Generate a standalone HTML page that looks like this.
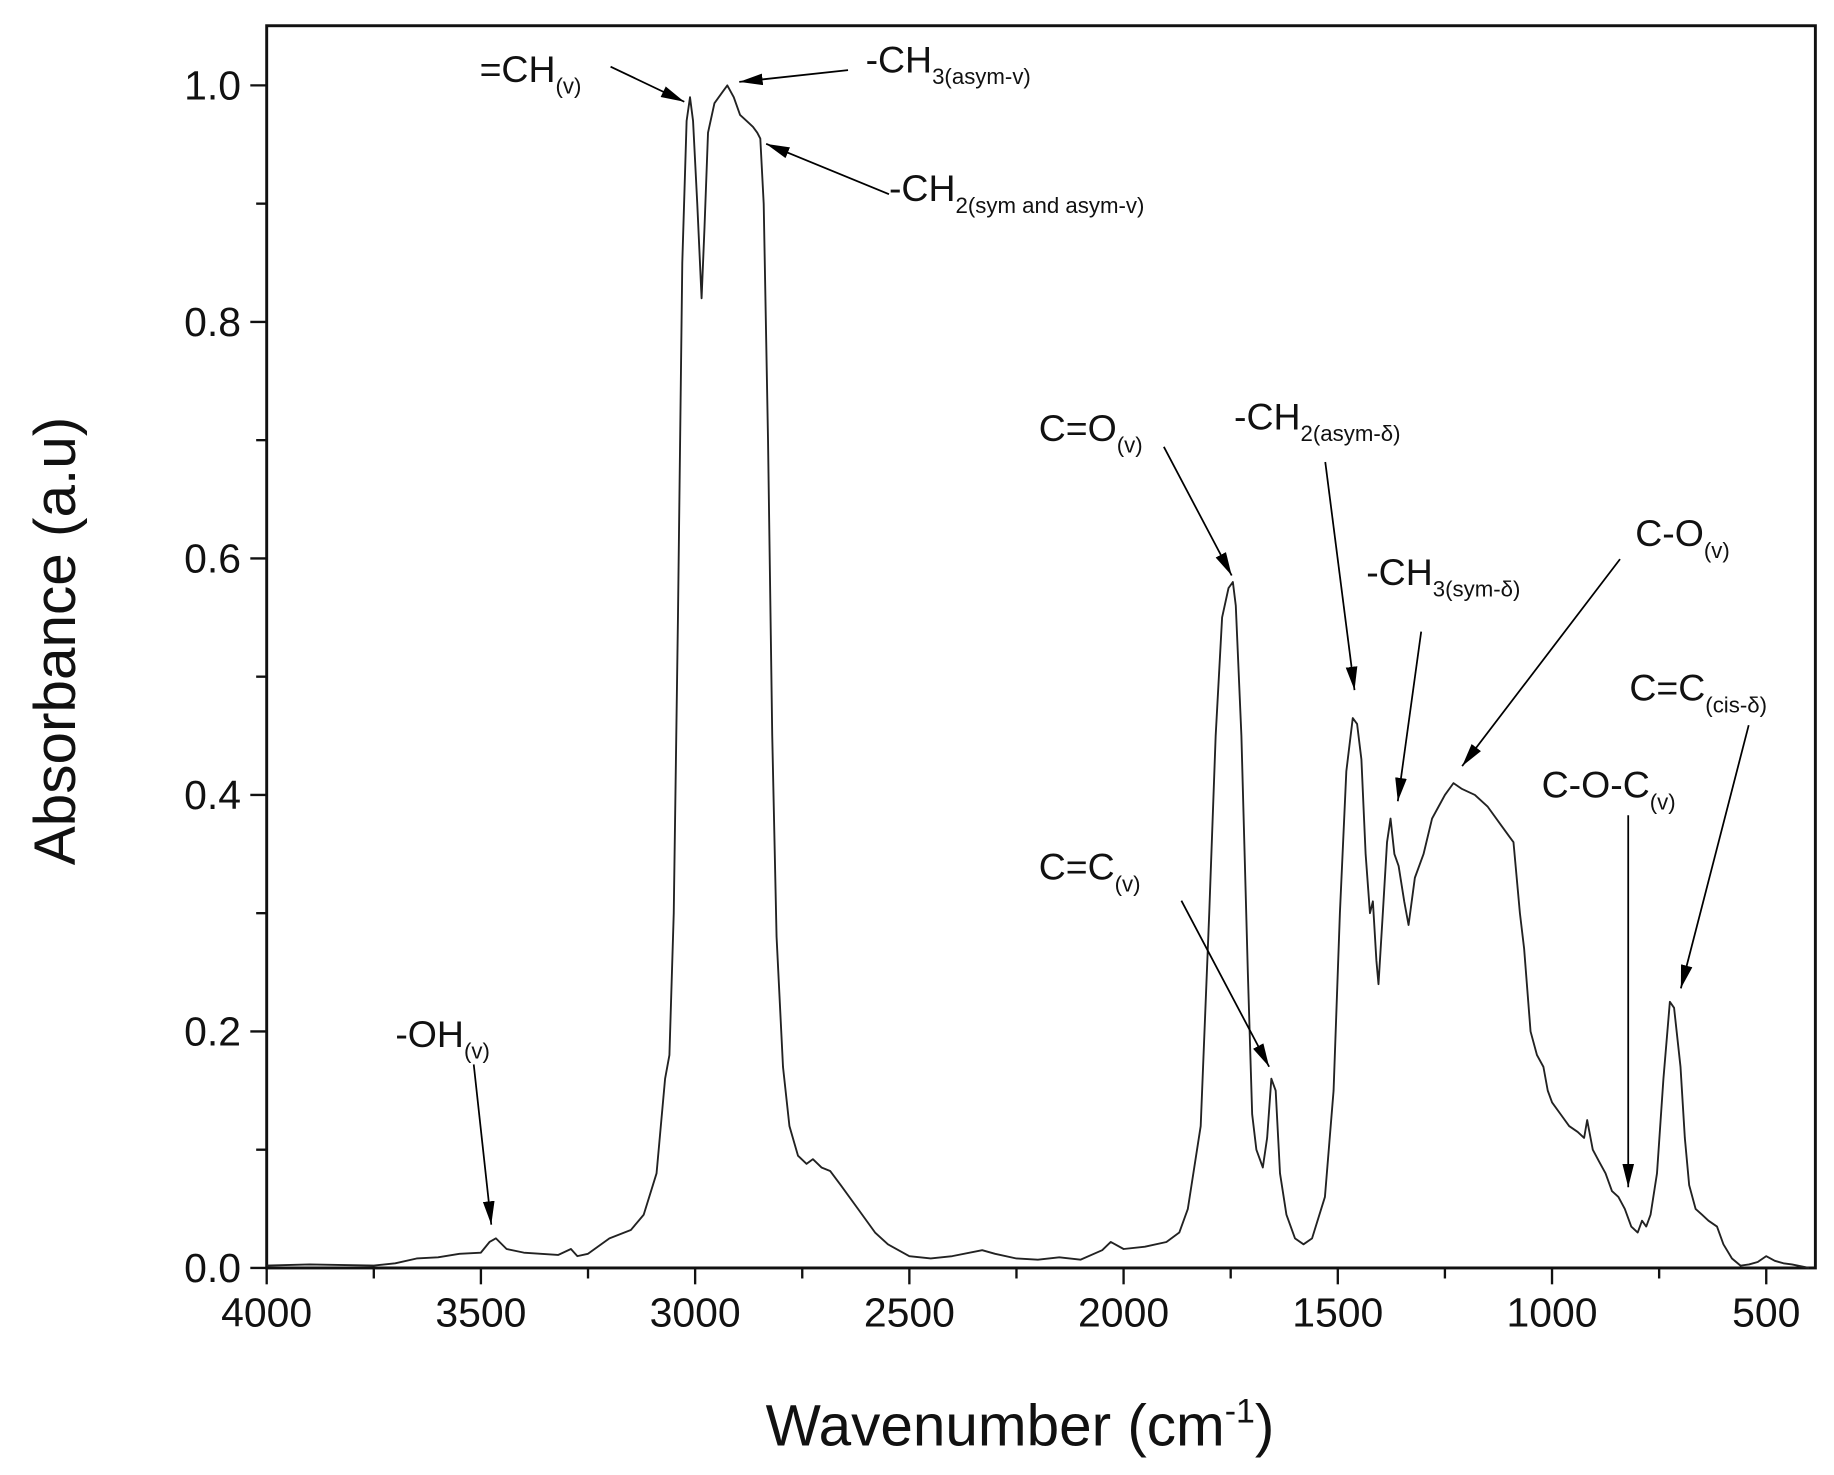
<!DOCTYPE html>
<html><head><meta charset="utf-8"><style>
html,body{margin:0;padding:0;background:#fff}
svg{display:block}
text{font-family:"Liberation Sans",sans-serif;fill:#111}
</style></head><body>
<svg id="chart" width="1834" height="1475" viewBox="0 0 1834 1475">
<defs>
<marker id="arr" viewBox="0 0 20 10" markerWidth="20" markerHeight="10" refX="20" refY="5" orient="auto" markerUnits="userSpaceOnUse"><path d="M0,0 L20,5 L0,10 z" fill="#000"/></marker></defs>
<g id="root" transform="scale(1.1697)"></g>
</svg>
<script>
const wavenumbers=[4000,3900,3750,3700,3650,3600,3550,3500,3480,3465,3440,3400,3320,3290,3275,3250,3200,3150,3120,3090,3070,3060,3050,3040,3030,3020,3012,3005,2995,2985,2978,2970,2955,2935,2925,2910,2895,2880,2865,2855,2848,2840,2830,2820,2810,2795,2780,2760,2740,2725,2705,2685,2660,2620,2580,2550,2500,2450,2400,2330,2300,2250,2200,2150,2100,2050,2030,2000,1950,1900,1870,1850,1820,1800,1785,1770,1755,1745,1738,1725,1710,1700,1690,1675,1665,1655,1645,1635,1620,1600,1580,1560,1530,1510,1495,1480,1465,1455,1445,1435,1425,1418,1410,1405,1395,1385,1377,1368,1358,1345,1335,1320,1300,1280,1265,1250,1230,1210,1180,1150,1120,1100,1090,1075,1065,1050,1035,1020,1010,1000,980,960,940,925,918,905,890,875,860,845,830,815,800,790,780,770,755,740,725,715,700,690,680,665,650,635,615,600,580,560,540,520,500,480,460,440,400];
const absorbance=[0.002,0.003,0.002,0.004,0.008,0.009,0.012,0.013,0.022,0.025,0.016,0.013,0.011,0.016,0.010,0.012,0.025,0.032,0.045,0.08,0.16,0.18,0.30,0.55,0.85,0.97,0.99,0.97,0.90,0.82,0.88,0.96,0.985,0.995,1.0,0.99,0.975,0.97,0.965,0.96,0.955,0.90,0.70,0.45,0.28,0.17,0.12,0.095,0.088,0.092,0.085,0.082,0.07,0.05,0.03,0.02,0.01,0.008,0.01,0.015,0.012,0.008,0.007,0.009,0.007,0.015,0.022,0.016,0.018,0.022,0.03,0.05,0.12,0.3,0.45,0.55,0.575,0.58,0.56,0.45,0.25,0.13,0.1,0.085,0.11,0.16,0.15,0.08,0.045,0.025,0.02,0.025,0.06,0.15,0.3,0.42,0.465,0.46,0.43,0.35,0.30,0.31,0.26,0.24,0.3,0.36,0.38,0.35,0.34,0.31,0.29,0.33,0.35,0.38,0.39,0.40,0.41,0.405,0.40,0.39,0.375,0.365,0.36,0.30,0.27,0.2,0.18,0.17,0.15,0.14,0.13,0.12,0.115,0.11,0.125,0.1,0.09,0.08,0.065,0.06,0.05,0.035,0.03,0.04,0.035,0.045,0.08,0.16,0.225,0.22,0.17,0.11,0.07,0.05,0.045,0.04,0.035,0.02,0.008,0.002,0.003,0.005,0.01,0.006,0.004,0.003,0.0];
const xTicks=[4000,3500,3000,2500,2000,1500,1000,500];
const yTicks=[0.0,0.2,0.4,0.6,0.8,1.0];
const yTickLabels=["0.0","0.2","0.4","0.6","0.8","1.0"];

const NS="http://www.w3.org/2000/svg";
const root=document.getElementById('root');
const L=228,R=1552,T=22,B=1084;
const X=w=>228+(4000-w)*(1510-228)/3500;
const Y=a=>1084-a*(1084-73);
function el(tag,attrs,parent){const e=document.createElementNS(NS,tag);for(const k in attrs)e.setAttribute(k,attrs[k]);(parent||root).appendChild(e);return e;}

const frame=el('rect',{x:L,y:T,width:R-L,height:B-T,fill:'none',stroke:'#111','stroke-width':2.5});



for(let w=4000;w>=400;w-=250){
  const major=w%500===0;
  const t=el('line',{x1:X(w),x2:X(w),y1:B,y2:B+(major?14:9),stroke:'#111','stroke-width':2});
  
  
}
xTicks.forEach(w=>{
  const t=el('text',{x:X(w),y:B+50,'text-anchor':'middle','font-size':35});
  t.textContent=String(w);
  
  
});
for(let i=0;i<=10;i++){
  const a=i*0.1;const major=i%2===0;
  const t=el('line',{x1:L,x2:L-(major?14:9),y1:Y(a),y2:Y(a),stroke:'#111','stroke-width':2});
  
  
}
yTicks.forEach((a,i)=>{
  const t=el('text',{x:L-22,y:Y(a)+12,'text-anchor':'end','font-size':35});
  t.textContent=yTickLabels[i];
  
  
});
const yt=el('text',{x:0,y:0,'text-anchor':'middle','font-size':50,transform:'translate(64,548) rotate(-90)'});
yt.textContent='Absorbance (a.u)';


const xt=el('text',{x:872,y:1236,'text-anchor':'middle','font-size':50});
xt.innerHTML='Wavenumber (cm<tspan dy="-20" font-size="29">-1</tspan><tspan dy="20">)</tspan>';



let d='';
wavenumbers.forEach((w,i)=>{d+=(i?'L':'M')+X(w).toFixed(1)+','+Y(absorbance[i]).toFixed(1)+' ';});
const line=el('path',{d:d,fill:'none',stroke:'#222','stroke-width':1.6,'stroke-linejoin':'round'});



const notes=[
 ['=CH','(v)',410,70,522,57,585,87,'annotation-ch'],
 ['-CH','3(asym-v)',740,62,725,60,632,70,'annotation-ch3-asym'],
 ['-CH','2(sym and asym-v)',760,172,760,166,655,123,'annotation-ch2'],
 ['C=O','(v)',888,377,995,382,1053,492,'annotation-co'],
 ['-CH','2(asym-δ)',1055,367,1133,395,1158,590,'annotation-ch2-asym-delta'],
 ['-CH','3(sym-δ)',1168,500,1215,540,1195,685,'annotation-ch3-sym-delta'],
 ['C-O','(v)',1398,467,1385,478,1250,655,'annotation-c-o'],
 ['C=C','(v)',888,752,1010,770,1085,912,'annotation-cc'],
 ['C=C','(cis-δ)',1393,599,1495,620,1437,845,'annotation-cc-cis'],
 ['C-O-C','(v)',1318,682,1392,697,1392,1015,'annotation-coc'],
 ['-OH','(v)',338,895,405,910,420,1047,'annotation-oh']
];
notes.forEach(n=>{
  const t=el('text',{x:n[2],y:n[3],'font-size':32});
  t.innerHTML=n[0]+'<tspan dy="10" font-size="19">'+n[1]+'</tspan>';
  
  
  const a=el('line',{x1:n[4],y1:n[5],x2:n[6],y2:n[7],stroke:'#000','stroke-width':1.5,'marker-end':'url(#arr)'});
  
  
});
</script>
</body></html>
